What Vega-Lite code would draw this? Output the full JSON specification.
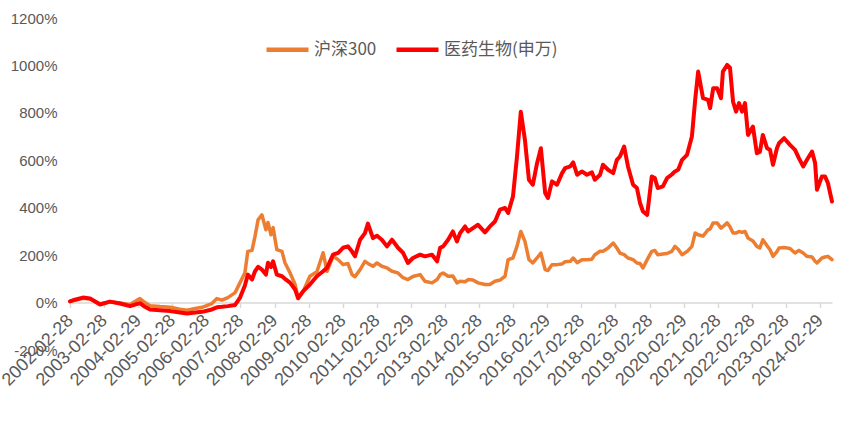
{
  "$schema": "https://vega.github.io/schema/vega-lite/v6.json",
  "autosize": {"type": "none"},
  "width": 762,
  "height": 332,
  "padding": {"left": 70, "top": 18, "right": 23, "bottom": 86},
  "background": "white",
  "config": {"view": {"stroke": null}},
  "data": {"values": [
    {"d": "2002-02-28", "hs": 5, "yy": 5},
    {"d": "2002-04-21", "hs": 10, "yy": 12},
    {"d": "2002-07-16", "hs": 18, "yy": 21},
    {"d": "2002-10-01", "hs": 15, "yy": 17},
    {"d": "2003-01-16", "hs": -5, "yy": -8},
    {"d": "2003-05-02", "hs": 3, "yy": 4},
    {"d": "2003-08-17", "hs": -2, "yy": -4},
    {"d": "2003-12-03", "hs": -8, "yy": -15},
    {"d": "2004-03-18", "hs": 17, "yy": -2},
    {"d": "2004-05-11", "hs": 0, "yy": -18},
    {"d": "2004-07-04", "hs": -13, "yy": -29},
    {"d": "2004-10-19", "hs": -17, "yy": -32},
    {"d": "2005-02-06", "hs": -20, "yy": -36},
    {"d": "2005-05-20", "hs": -28, "yy": -42},
    {"d": "2005-08-05", "hs": -32, "yy": -46},
    {"d": "2005-11-01", "hs": -25, "yy": -42},
    {"d": "2006-01-13", "hs": -20, "yy": -39},
    {"d": "2006-04-28", "hs": -4, "yy": -29},
    {"d": "2006-06-21", "hs": 17, "yy": -20},
    {"d": "2006-08-14", "hs": 10, "yy": -18},
    {"d": "2006-10-17", "hs": 21, "yy": -15},
    {"d": "2007-01-02", "hs": 42, "yy": -10},
    {"d": "2007-02-24", "hs": 84, "yy": 21},
    {"d": "2007-04-17", "hs": 126, "yy": 72},
    {"d": "2007-05-18", "hs": 216, "yy": 118},
    {"d": "2007-07-02", "hs": 220, "yy": 97},
    {"d": "2007-08-03", "hs": 279, "yy": 132},
    {"d": "2007-09-05", "hs": 349, "yy": 151},
    {"d": "2007-10-16", "hs": 370, "yy": 139},
    {"d": "2007-11-28", "hs": 307, "yy": 118},
    {"d": "2007-12-20", "hs": 338, "yy": 168},
    {"d": "2008-01-21", "hs": 286, "yy": 150},
    {"d": "2008-02-13", "hs": 316, "yy": 174},
    {"d": "2008-03-24", "hs": 223, "yy": 118},
    {"d": "2008-05-18", "hs": 216, "yy": 111},
    {"d": "2008-06-19", "hs": 168, "yy": 100},
    {"d": "2008-08-12", "hs": 126, "yy": 84},
    {"d": "2008-10-06", "hs": 76, "yy": 55},
    {"d": "2008-11-07", "hs": 21, "yy": 18},
    {"d": "2009-01-01", "hs": 48, "yy": 48},
    {"d": "2009-03-13", "hs": 111, "yy": 76},
    {"d": "2009-05-27", "hs": 130, "yy": 111},
    {"d": "2009-08-02", "hs": 210, "yy": 132},
    {"d": "2009-09-13", "hs": 132, "yy": 147},
    {"d": "2009-11-16", "hs": 195, "yy": 202},
    {"d": "2010-01-10", "hs": 181, "yy": 210},
    {"d": "2010-03-03", "hs": 160, "yy": 231},
    {"d": "2010-04-24", "hs": 165, "yy": 237},
    {"d": "2010-06-08", "hs": 118, "yy": 215},
    {"d": "2010-07-09", "hs": 109, "yy": 195},
    {"d": "2010-09-02", "hs": 139, "yy": 265},
    {"d": "2010-10-24", "hs": 174, "yy": 293},
    {"d": "2010-11-25", "hs": 165, "yy": 333},
    {"d": "2011-01-18", "hs": 153, "yy": 272},
    {"d": "2011-03-02", "hs": 167, "yy": 282},
    {"d": "2011-04-23", "hs": 153, "yy": 265},
    {"d": "2011-06-17", "hs": 146, "yy": 237},
    {"d": "2011-08-10", "hs": 132, "yy": 265},
    {"d": "2011-10-13", "hs": 125, "yy": 231},
    {"d": "2011-12-06", "hs": 105, "yy": 210},
    {"d": "2012-01-27", "hs": 97, "yy": 167},
    {"d": "2012-03-21", "hs": 110, "yy": 188},
    {"d": "2012-06-06", "hs": 118, "yy": 202},
    {"d": "2012-07-27", "hs": 90, "yy": 195},
    {"d": "2012-10-12", "hs": 83, "yy": 202},
    {"d": "2012-12-05", "hs": 97, "yy": 174},
    {"d": "2013-01-07", "hs": 118, "yy": 231},
    {"d": "2013-02-08", "hs": 125, "yy": 237},
    {"d": "2013-04-02", "hs": 111, "yy": 265},
    {"d": "2013-05-23", "hs": 112, "yy": 300},
    {"d": "2013-07-06", "hs": 83, "yy": 258},
    {"d": "2013-08-08", "hs": 90, "yy": 293},
    {"d": "2013-10-01", "hs": 88, "yy": 321},
    {"d": "2013-11-03", "hs": 97, "yy": 300},
    {"d": "2013-12-24", "hs": 95, "yy": 314},
    {"d": "2014-02-17", "hs": 83, "yy": 328},
    {"d": "2014-05-02", "hs": 76, "yy": 296},
    {"d": "2014-06-24", "hs": 76, "yy": 321},
    {"d": "2014-08-17", "hs": 90, "yy": 342},
    {"d": "2014-10-10", "hs": 95, "yy": 392},
    {"d": "2014-12-03", "hs": 111, "yy": 399},
    {"d": "2015-01-05", "hs": 181, "yy": 378},
    {"d": "2015-02-26", "hs": 188, "yy": 448},
    {"d": "2015-04-10", "hs": 237, "yy": 616},
    {"d": "2015-05-21", "hs": 300, "yy": 805},
    {"d": "2015-07-04", "hs": 258, "yy": 686},
    {"d": "2015-08-16", "hs": 181, "yy": 518},
    {"d": "2015-09-27", "hs": 167, "yy": 497},
    {"d": "2015-11-11", "hs": 188, "yy": 588},
    {"d": "2015-12-22", "hs": 209, "yy": 651},
    {"d": "2016-02-06", "hs": 139, "yy": 462},
    {"d": "2016-03-07", "hs": 135, "yy": 441},
    {"d": "2016-04-19", "hs": 160, "yy": 511},
    {"d": "2016-06-12", "hs": 160, "yy": 497},
    {"d": "2016-08-05", "hs": 163, "yy": 546},
    {"d": "2016-09-07", "hs": 172, "yy": 567},
    {"d": "2016-11-01", "hs": 174, "yy": 574},
    {"d": "2016-12-02", "hs": 188, "yy": 591},
    {"d": "2017-01-13", "hs": 168, "yy": 539},
    {"d": "2017-03-06", "hs": 181, "yy": 553},
    {"d": "2017-04-28", "hs": 181, "yy": 539},
    {"d": "2017-06-21", "hs": 183, "yy": 549},
    {"d": "2017-07-22", "hs": 202, "yy": 518},
    {"d": "2017-09-16", "hs": 216, "yy": 539},
    {"d": "2017-10-17", "hs": 216, "yy": 581},
    {"d": "2017-12-11", "hs": 230, "yy": 560},
    {"d": "2018-02-04", "hs": 251, "yy": 546},
    {"d": "2018-03-15", "hs": 230, "yy": 602},
    {"d": "2018-04-17", "hs": 209, "yy": 616},
    {"d": "2018-06-01", "hs": 202, "yy": 658},
    {"d": "2018-07-12", "hs": 188, "yy": 574},
    {"d": "2018-09-05", "hs": 181, "yy": 497},
    {"d": "2018-10-16", "hs": 167, "yy": 483},
    {"d": "2018-11-18", "hs": 165, "yy": 420},
    {"d": "2018-12-20", "hs": 146, "yy": 384},
    {"d": "2019-02-03", "hs": 181, "yy": 370},
    {"d": "2019-03-24", "hs": 216, "yy": 532},
    {"d": "2019-04-26", "hs": 220, "yy": 525},
    {"d": "2019-05-27", "hs": 202, "yy": 483},
    {"d": "2019-07-21", "hs": 205, "yy": 490},
    {"d": "2019-09-04", "hs": 207, "yy": 525},
    {"d": "2019-10-25", "hs": 216, "yy": 540},
    {"d": "2019-11-27", "hs": 237, "yy": 553},
    {"d": "2020-01-01", "hs": 225, "yy": 560},
    {"d": "2020-02-12", "hs": 202, "yy": 602},
    {"d": "2020-04-05", "hs": 215, "yy": 623},
    {"d": "2020-05-27", "hs": 237, "yy": 700},
    {"d": "2020-07-01", "hs": 293, "yy": 855},
    {"d": "2020-08-02", "hs": 286, "yy": 974},
    {"d": "2020-09-23", "hs": 280, "yy": 862},
    {"d": "2020-11-16", "hs": 307, "yy": 855},
    {"d": "2020-12-08", "hs": 310, "yy": 820},
    {"d": "2021-01-10", "hs": 336, "yy": 904},
    {"d": "2021-02-21", "hs": 336, "yy": 904},
    {"d": "2021-04-04", "hs": 314, "yy": 862},
    {"d": "2021-04-24", "hs": 320, "yy": 974},
    {"d": "2021-06-08", "hs": 336, "yy": 1002},
    {"d": "2021-07-09", "hs": 320, "yy": 990},
    {"d": "2021-08-11", "hs": 293, "yy": 847},
    {"d": "2021-09-12", "hs": 293, "yy": 805},
    {"d": "2021-10-14", "hs": 300, "yy": 841},
    {"d": "2021-11-15", "hs": 296, "yy": 805},
    {"d": "2021-12-17", "hs": 300, "yy": 841},
    {"d": "2022-01-18", "hs": 272, "yy": 707},
    {"d": "2022-03-12", "hs": 260, "yy": 742},
    {"d": "2022-04-23", "hs": 237, "yy": 630},
    {"d": "2022-05-25", "hs": 230, "yy": 635},
    {"d": "2022-06-26", "hs": 265, "yy": 707},
    {"d": "2022-08-10", "hs": 240, "yy": 651},
    {"d": "2022-09-11", "hs": 223, "yy": 644},
    {"d": "2022-10-13", "hs": 195, "yy": 581},
    {"d": "2022-11-24", "hs": 215, "yy": 651},
    {"d": "2022-12-16", "hs": 230, "yy": 672},
    {"d": "2023-02-09", "hs": 232, "yy": 693},
    {"d": "2023-04-13", "hs": 228, "yy": 665},
    {"d": "2023-06-06", "hs": 209, "yy": 644},
    {"d": "2023-07-17", "hs": 220, "yy": 609},
    {"d": "2023-09-01", "hs": 209, "yy": 574},
    {"d": "2023-10-12", "hs": 195, "yy": 602},
    {"d": "2023-12-05", "hs": 192, "yy": 637},
    {"d": "2024-01-07", "hs": 174, "yy": 588},
    {"d": "2024-01-27", "hs": 167, "yy": 476},
    {"d": "2024-03-20", "hs": 188, "yy": 532},
    {"d": "2024-04-22", "hs": 192, "yy": 532},
    {"d": "2024-05-23", "hs": 195, "yy": 504},
    {"d": "2024-07-06", "hs": 181, "yy": 426}
  ]},
  "encoding": {
    "x": {
      "field": "d",
      "type": "temporal",
      "scale": {"type": "utc", "domain": [{"year": 2002, "month": 2, "date": 28, "utc": true}, {"year": 2024, "month": 7, "date": 6, "utc": true}]},
      "axis": {
        "title": null,
        "orient": "bottom",
        "offset": -47.4,
        "values": [
          {"year": 2002, "month": 2, "date": 28, "utc": true},
          {"year": 2003, "month": 2, "date": 28, "utc": true},
          {"year": 2004, "month": 2, "date": 29, "utc": true},
          {"year": 2005, "month": 2, "date": 28, "utc": true},
          {"year": 2006, "month": 2, "date": 28, "utc": true},
          {"year": 2007, "month": 2, "date": 28, "utc": true},
          {"year": 2008, "month": 2, "date": 29, "utc": true},
          {"year": 2009, "month": 2, "date": 28, "utc": true},
          {"year": 2010, "month": 2, "date": 28, "utc": true},
          {"year": 2011, "month": 2, "date": 28, "utc": true},
          {"year": 2012, "month": 2, "date": 29, "utc": true},
          {"year": 2013, "month": 2, "date": 28, "utc": true},
          {"year": 2014, "month": 2, "date": 28, "utc": true},
          {"year": 2015, "month": 2, "date": 28, "utc": true},
          {"year": 2016, "month": 2, "date": 29, "utc": true},
          {"year": 2017, "month": 2, "date": 28, "utc": true},
          {"year": 2018, "month": 2, "date": 28, "utc": true},
          {"year": 2019, "month": 2, "date": 28, "utc": true},
          {"year": 2020, "month": 2, "date": 29, "utc": true},
          {"year": 2021, "month": 2, "date": 28, "utc": true},
          {"year": 2022, "month": 2, "date": 28, "utc": true},
          {"year": 2023, "month": 2, "date": 28, "utc": true},
          {"year": 2024, "month": 2, "date": 29, "utc": true}
        ],
        "labelExpr": "utcFormat(datum.value, '%Y-%m-%d')",
        "labelAngle": -45,
        "labelAlign": "right",
        "labelBaseline": "middle",
        "labelFont": "Liberation Sans",
        "labelFontSize": 18,
        "labelColor": "#595959",
        "labelOverlap": false,
        "labelPadding": 10,
        "labelFlush": false,
        "domainColor": "#d9d9d9",
        "domainWidth": 1.5,
        "tickColor": "#d9d9d9",
        "tickWidth": 1.5,
        "tickSize": 5,
        "grid": false
      }
    }
  },
  "layer": [
    {
      "mark": {"type": "line", "strokeWidth": 3.5, "strokeJoin": "round", "strokeCap": "round"},
      "encoding": {
        "y": {
          "field": "hs",
          "type": "quantitative",
          "scale": {"domain": [-200, 1200], "nice": false},
          "axis": {
            "title": null,
            "values": [-200, 0, 200, 400, 600, 800, 1000, 1200],
            "labelExpr": "datum.value + '%'",
            "labelFont": "Liberation Sans",
            "labelFontSize": 15,
            "labelColor": "#595959",
            "labelPadding": 13,
            "domain": false,
            "ticks": false,
            "grid": false
          }
        },
        "color": {
          "datum": "沪深300",
          "type": "nominal",
          "scale": {"domain": ["沪深300", "医药生物(申万)"], "range": ["#ED7D31", "#FF0000"]},
          "legend": {
            "title": null,
            "orient": "none",
            "direction": "horizontal",
            "legendX": 194,
            "legendY": 8,
            "symbolType": "stroke",
            "symbolSize": 1764,
            "symbolStrokeWidth": 4.5,
            "labelFont": "Noto Sans CJK SC",
            "labelFontSize": 17,
            "labelColor": "#595959",
            "labelOffset": 3,
            "columnPadding": 10,
            "padding": 0
          }
        }
      }
    },
    {
      "mark": {"type": "line", "strokeWidth": 4, "strokeJoin": "round", "strokeCap": "round"},
      "encoding": {
        "y": {"field": "yy", "type": "quantitative"},
        "color": {"datum": "医药生物(申万)", "type": "nominal"}
      }
    }
  ]
}
